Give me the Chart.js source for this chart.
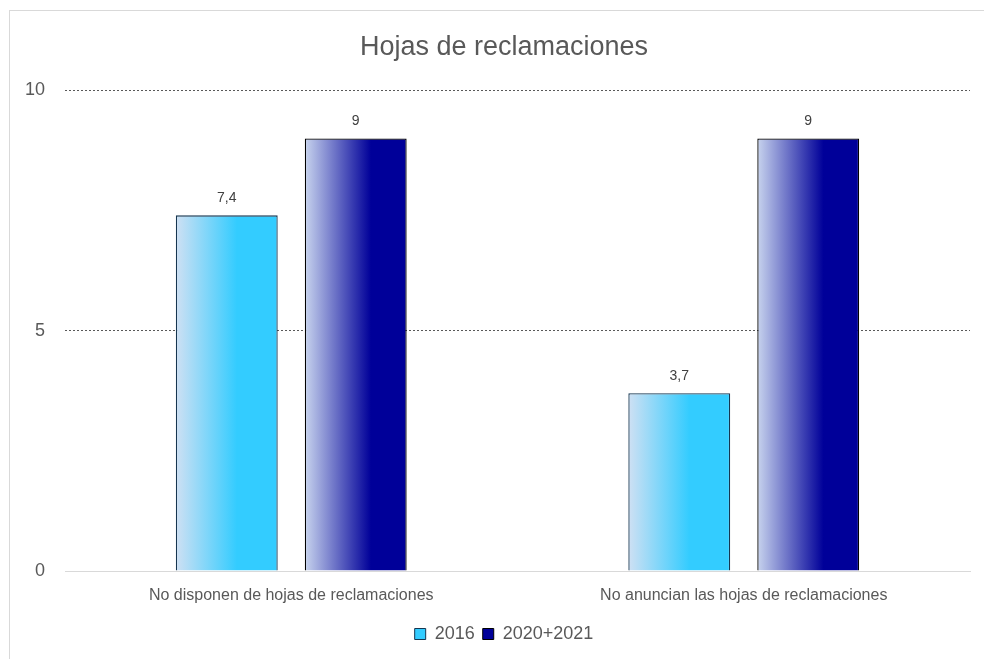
<!DOCTYPE html>
<html>
<head>
<meta charset="utf-8">
<script src="https://cdn.jsdelivr.net/npm/chart.js@4"></script>
<style>
  body { margin: 0; background: #fff; overflow: hidden; }
  #frame { position: absolute; left: 9px; top: 10px; width: 1100px; height: 1100px; border: 1px solid #d9d9d9; }
  #wrap { position: absolute; left: 0; top: 0; width: 998px; height: 659px; }
</style>
</head>
<body>
<div id="frame"></div>
<div id="wrap"><canvas id="myChart"></canvas></div>
<script>
'use strict';

const categories = ['No disponen de hojas de reclamaciones', 'No anuncian las hojas de reclamaciones'];
const values2016 = [7.4, 3.7];
const values2020 = [9, 9];
const yTicks = [0, 5, 10];

const FONT = '"Liberation Sans", Arial, sans-serif';

const gradStops = {
  '2016': [[0, '#cfe0f3'], [0.6, '#33ccff'], [1, '#33ccff']],
  '2020+2021': [[0, '#c8d4ee'], [0.65, '#000099'], [1, '#000099']],
};

// paint each bar with a left-to-right gradient based on its own position
const barGradient = {
  id: 'barGradient',
  beforeDatasetsDraw(chart) {
    const ctx = chart.ctx;
    chart.data.datasets.forEach((ds, i) => {
      const meta = chart.getDatasetMeta(i);
      meta.data.forEach((bar) => {
        const left = bar.x - bar.width / 2;
        const g = ctx.createLinearGradient(left, 0, left + bar.width, 0);
        for (const s of gradStops[ds.label]) g.addColorStop(s[0], s[1]);
        bar.options = Object.assign({}, bar.options, {backgroundColor: g});
      });
    });
  }
};

// value labels above bars, with decimal comma
const valueLabels = {
  id: 'valueLabels',
  afterDatasetsDraw(chart) {
    const ctx = chart.ctx;
    ctx.save();
    ctx.font = '14px ' + FONT;
    ctx.fillStyle = '#404040';
    ctx.textAlign = 'center';
    ctx.textBaseline = 'middle';
    chart.data.datasets.forEach((ds, i) => {
      chart.getDatasetMeta(i).data.forEach((bar, j) => {
        ctx.fillText(String(ds.data[j]).replace('.', ','), bar.x, bar.y - 17);
      });
    });
    ctx.restore();
  }
};

new Chart(document.querySelector('#myChart'), {
  type: 'bar',
  data: {
    labels: categories,
    datasets: [
      {
        label: '2016',
        data: values2016,
        backgroundColor: () => '#33ccff',
        borderColor: '#163650',
        borderWidth: 1.3,
        borderSkipped: 'bottom',
        categoryPercentage: 0.57,
        barPercentage: 0.79,
      },
      {
        label: '2020+2021',
        data: values2020,
        backgroundColor: () => '#000099',
        borderColor: '#000000',
        borderWidth: 1.3,
        borderSkipped: 'bottom',
        categoryPercentage: 0.57,
        barPercentage: 0.79,
      },
    ],
  },
  plugins: [barGradient, valueLabels],
  options: {
    responsive: true,
    maintainAspectRatio: false,
    animation: false,
    layout: {
      padding: {left: 10, right: 0, top: 0, bottom: 6}
    },
    plugins: {
      title: {
        display: true,
        text: 'Hojas de reclamaciones',
        color: '#595959',
        font: {family: FONT, size: 27, weight: 'normal'},
        padding: {top: 31, bottom: 27},
      },
      legend: {
        position: 'bottom',
        labels: {
          color: '#595959',
          font: {family: FONT, size: 18},
          boxWidth: 11,
          boxHeight: 11,
          padding: 8,
          generateLabels: (chart) => chart.data.datasets.map((ds, i) => ({
            text: ds.label,
            fillStyle: i === 0 ? '#33ccff' : '#000099',
            strokeStyle: i === 0 ? '#163650' : '#000000',
            lineWidth: 1,
            datasetIndex: i,
            fontColor: '#595959',
          })),
        },
      },
      tooltip: {enabled: false},
    },
    scales: {
      x: {
        grid: {display: false},
        border: {display: true, color: '#d9d9d9', width: 1},
        ticks: {
          color: '#595959',
          font: {family: FONT, size: 16},
          padding: 7,
          maxRotation: 0,
        },
        afterFit: (s) => { s.height = 46; },
      },
      y: {
        min: 0,
        max: 10,
        afterBuildTicks: (s) => { s.ticks = yTicks.map((v) => ({value: v})); },
        grid: {
          drawTicks: false,
          color: (c) => (c.tick && c.tick.value === 0 ? 'rgba(0,0,0,0)' : '#595959'),
          lineWidth: 1,
        },
        border: {display: false, dash: [2, 2]},
        ticks: {
          color: '#595959',
          font: {family: FONT, size: 18},
          padding: 20,
        },
        afterFit: (s) => { s.width = 55; },
      },
      // empty spacer on the right: the chart box runs past the window edge
      yRight: {
        position: 'right',
        grid: {display: false},
        border: {display: false},
        ticks: {display: false},
        afterFit: (s) => { s.width = 28; },
      },
    },
  },
});
</script>
</body>
</html>
